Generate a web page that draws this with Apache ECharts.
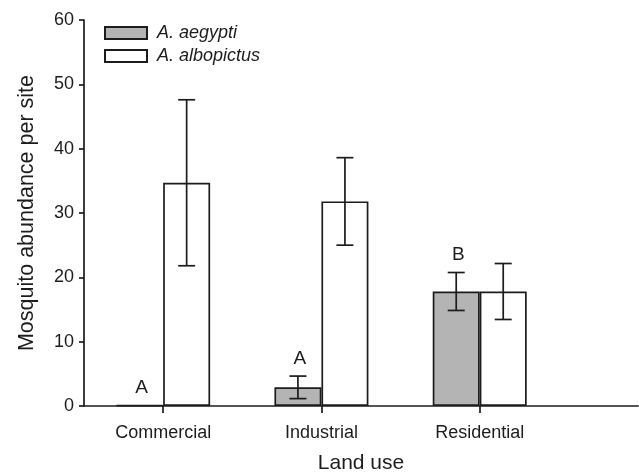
<!DOCTYPE html>
<html>
<head>
<meta charset="utf-8">
<script src="https://cdn.jsdelivr.net/npm/echarts@6/dist/echarts.min.js"></script>
<style>html,body{margin:0;padding:0;background:#fff}#c{width:639px;height:472px}</style>
</head>
<body>
<div id="c"></div>
<script>
var categories = ['Commercial', 'Industrial', 'Residential'];
var aegyptiMean = [0.1, 2.9, 17.8];
var aegyptiErr = [0, 1.75, 2.95];
var albopictusMean = [34.7, 31.8, 17.8];
var albopictusErr = [12.9, 6.8, 4.35];
var sigLetters = ['A', 'A', 'B'];
var yTicks = [0, 10, 20, 30, 40, 50, 60];

var FONT = 'Liberation Sans, Arial, sans-serif';
var INK = '#1c1c1c';
var BARW = 47;

function pairs(vals) { return vals.map(function (v, i) { return [i + 1, v]; }); }
function errData(m, e) { return m.map(function (v, i) { return [i + 1, v - e[i], v + e[i], e[i], sigLetters[i]]; }); }

function errRender(offsetSign, withLetters) {
  return function (params, api) {
    var x = api.value(0), lo = api.value(1), hi = api.value(2), se = api.value(3);
    var pLo = api.coord([x, lo]);
    var pHi = api.coord([x, hi]);
    var cx = pLo[0] + offsetSign * BARW / 2;
    var children = [];
    var cap = 8.5;
    var st = { stroke: INK, lineWidth: 1.7 };
    if (se > 0) {
      children.push({ type: 'line', shape: { x1: cx, y1: pLo[1], x2: cx, y2: pHi[1] }, style: st });
      children.push({ type: 'line', shape: { x1: cx - cap, y1: pLo[1], x2: cx + cap, y2: pLo[1] }, style: st });
      children.push({ type: 'line', shape: { x1: cx - cap, y1: pHi[1], x2: cx + cap, y2: pHi[1] }, style: st });
    }
    if (withLetters) {
      children.push({ type: 'text', style: { text: api.value(4), x: cx + 2, y: pHi[1] - 8, align: 'center', verticalAlign: 'bottom', fill: INK, font: '19px ' + FONT } });
    }
    return { type: 'group', children: children };
  };
}

var chart = echarts.init(document.getElementById('c'));
chart.setOption({
  animation: false,
  backgroundColor: '#fff',
  textStyle: { fontFamily: FONT, color: INK },
  grid: { left: 84, right: 1, top: 20, bottom: 66, containLabel: false, outerBoundsMode: 'none' },
  legend: {
    orient: 'vertical', left: 104, top: 24, padding: 0, itemWidth: 42, itemHeight: 12, itemGap: 5,
    icon: 'rect',
    data: ['A. aegypti', 'A. albopictus'],
    textStyle: { fontFamily: FONT, fontStyle: 'italic', fontSize: 18, color: INK, padding: [0, 0, 0, 5] }
  },
  xAxis: {
    type: 'value', min: 0.5, max: 4,
    name: 'Land use', nameLocation: 'middle', nameGap: 47,
    nameTextStyle: { fontFamily: FONT, fontSize: 21, color: INK },
    axisLine: { show: true, onZero: false, lineStyle: { color: INK, width: 1.7 } },
    axisTick: { show: true, customValues: [1, 2, 3], length: 7, lineStyle: { color: INK, width: 1.7 } },
    axisLabel: { customValues: [1, 2, 3], margin: 18, fontSize: 18, color: INK, fontFamily: FONT,
      formatter: function (v) { return categories[Math.round(v) - 1] || ''; } },
    splitLine: { show: false }
  },
  yAxis: {
    type: 'value', min: yTicks[0], max: yTicks[yTicks.length - 1], interval: 10,
    name: 'Mosquito abundance per site', nameLocation: 'middle', nameGap: 46,
    nameTextStyle: { fontFamily: FONT, fontSize: 21.5, color: INK },
    axisLine: { show: true, lineStyle: { color: INK, width: 1.7 } },
    axisTick: { show: true, length: 5, lineStyle: { color: INK, width: 1.7 } },
    axisLabel: { margin: 10, fontSize: 18, color: INK, fontFamily: FONT },
    splitLine: { show: false }
  },
  series: [
    { name: 'A. aegypti', type: 'bar', data: pairs(aegyptiMean), barWidth: BARW, barGap: '0%',
      itemStyle: { color: '#b4b4b4', borderColor: INK, borderWidth: 1.7 } },
    { name: 'A. albopictus', type: 'bar', data: pairs(albopictusMean), barWidth: BARW, barGap: '0%',
      itemStyle: { color: '#ffffff', borderColor: INK, borderWidth: 1.7 } },
    { type: 'custom', data: errData(aegyptiMean, aegyptiErr), renderItem: errRender(-1, true), z: 5, silent: true },
    { type: 'custom', data: errData(albopictusMean, albopictusErr), renderItem: errRender(1, false), z: 5, silent: true }
  ]
});
</script>
</body>
</html>
